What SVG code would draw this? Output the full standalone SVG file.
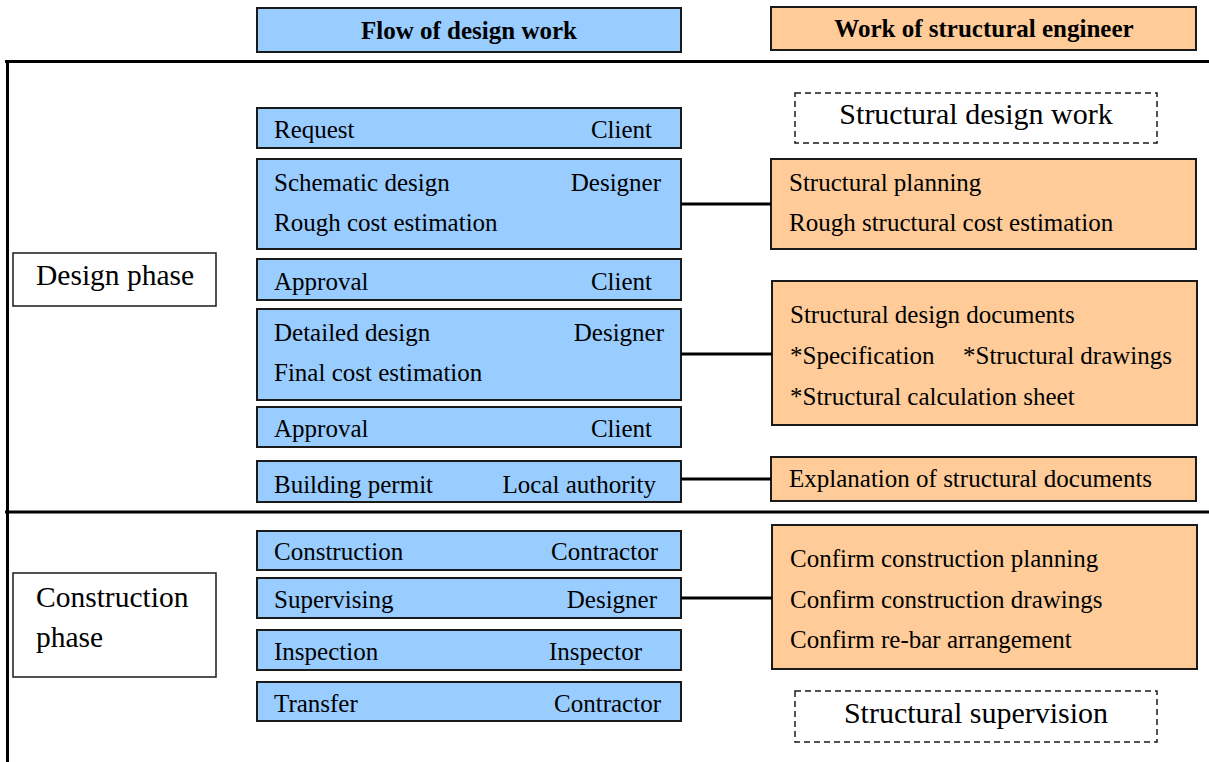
<svg xmlns="http://www.w3.org/2000/svg" width="1209" height="762" viewBox="0 0 1209 762">
<style>
text{font-family:'Liberation Serif','Times New Roman',serif;font-size:25px;fill:#000}
.hd{font-weight:bold;text-anchor:middle}
.big{font-size:29.5px}
.c{text-anchor:middle;font-size:30px}
.r{text-anchor:end}
.blue{fill:#99ccff;stroke:#1a1a1a;stroke-width:2}
.orange{fill:#ffcc99;stroke:#1a1a1a;stroke-width:2}
.white{fill:#fff;stroke:#1a1a1a;stroke-width:1.5}
.dash{fill:#fff;stroke:#1a1a1a;stroke-width:1.5;stroke-dasharray:6,4}
.frame{stroke:#000;stroke-width:3;fill:none}
.conn{stroke:#000;stroke-width:3;fill:none}
</style>
<rect width="1209" height="762" fill="#fff"/>
<g id="frame">
<line class="frame" x1="5" y1="61.5" x2="1209" y2="61.5"/>
<line class="frame" x1="7.5" y1="60" x2="7.5" y2="762"/>
<line class="frame" x1="5" y1="512" x2="1209" y2="512"/>
</g>
<g id="header-flow"><rect class="blue" x="257" y="8" width="424" height="44"/><text class="hd" x="469" y="39">Flow of design work</text></g>
<g id="header-work"><rect class="orange" x="771" y="7" width="425" height="43"/><text class="hd" x="984" y="37">Work of structural engineer</text></g>
<g id="design-phase"><rect class="white" x="13" y="253" width="203" height="53"/><text class="big" x="36" y="285">Design phase</text></g>
<g id="construction-phase"><rect class="white" x="13" y="573" width="203" height="104"/><text class="big" x="36" y="607">Construction</text><text class="big" x="36" y="647">phase</text></g>
<g id="request"><rect class="blue" x="257" y="108" width="424" height="40"/><text x="274" y="138">Request</text><text class="r" x="652" y="138">Client</text></g>
<g id="schematic"><rect class="blue" x="257" y="159" width="424" height="90"/><text x="274" y="191">Schematic design</text><text class="r" x="661" y="191">Designer</text><text x="274" y="231">Rough cost estimation</text></g>
<g id="approval1"><rect class="blue" x="257" y="259" width="424" height="41"/><text x="274" y="290">Approval</text><text class="r" x="652" y="290">Client</text></g>
<g id="detailed"><rect class="blue" x="257" y="309" width="424" height="91"/><text x="274" y="341">Detailed design</text><text class="r" x="664" y="341">Designer</text><text x="274" y="381">Final cost estimation</text></g>
<g id="approval2"><rect class="blue" x="257" y="407" width="424" height="40"/><text x="274" y="437">Approval</text><text class="r" x="652" y="437">Client</text></g>
<g id="permit"><rect class="blue" x="257" y="461" width="424" height="41"/><text x="274" y="493">Building permit</text><text class="r" x="656" y="493">Local authority</text></g>
<g id="construction"><rect class="blue" x="257" y="531" width="424" height="39"/><text x="274" y="560">Construction</text><text class="r" x="658" y="560">Contractor</text></g>
<g id="supervising"><rect class="blue" x="257" y="578" width="424" height="40"/><text x="274" y="608">Supervising</text><text class="r" x="657" y="608">Designer</text></g>
<g id="inspection"><rect class="blue" x="257" y="630" width="424" height="40"/><text x="274" y="660">Inspection</text><text class="r" x="642" y="660">Inspector</text></g>
<g id="transfer"><rect class="blue" x="257" y="682" width="424" height="39"/><text x="274" y="712">Transfer</text><text class="r" x="661" y="712">Contractor</text></g>
<g id="structural-design-work"><rect class="dash" x="795" y="93" width="362" height="50"/><text class="c" x="976" y="124">Structural design work</text></g>
<g id="structural-planning"><rect class="orange" x="771" y="159" width="425" height="90"/><text x="789" y="191">Structural planning</text><text x="789" y="231">Rough structural cost estimation</text></g>
<g id="design-documents"><rect class="orange" x="772" y="281" width="425" height="144"/><text x="790" y="323">Structural design documents</text><text x="790" y="364">*Specification</text><text x="963" y="364">*Structural drawings</text><text x="790" y="405">*Structural calculation sheet</text></g>
<g id="explanation"><rect class="orange" x="771" y="457" width="425" height="44"/><text x="789" y="487">Explanation of structural documents</text></g>
<g id="confirm"><rect class="orange" x="772" y="525" width="425" height="144"/><text x="790" y="567">Confirm construction planning</text><text x="790" y="608">Confirm construction drawings</text><text x="790" y="648">Confirm re-bar arrangement</text></g>
<g id="structural-supervision"><rect class="dash" x="795" y="691" width="362" height="51"/><text class="c" x="976" y="723">Structural supervision</text></g>
<g id="connectors">
<line class="conn" x1="681" y1="204" x2="771" y2="204"/>
<line class="conn" x1="681" y1="354" x2="772" y2="354"/>
<line class="conn" x1="681" y1="479" x2="771" y2="479"/>
<line class="conn" x1="681" y1="598" x2="772" y2="598"/>
</g>
</svg>
